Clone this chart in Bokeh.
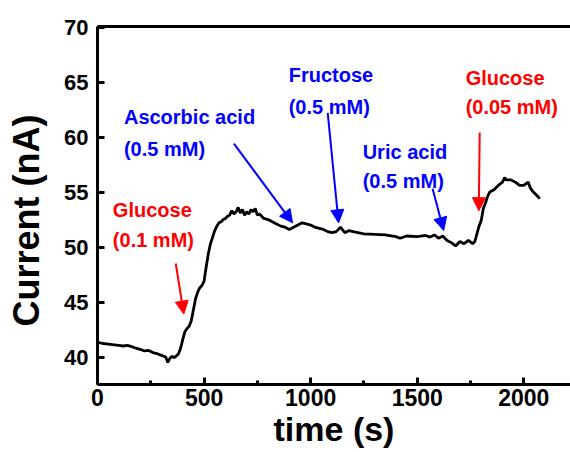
from bokeh.plotting import figure
from bokeh.models import Range1d, LinearAxis, Arrow, NormalHead, FixedTicker
from bokeh.core.properties import value
from bokeh.embed import file_html
from bokeh.resources import INLINE

# ---- data ----
time_s = [0, 20, 40, 60, 80, 100, 120, 140, 160, 180, 200, 220, 240, 260, 280, 300,
          320, 330, 340, 350, 360, 370, 380, 390, 400, 410, 420, 430, 440, 450, 460,
          470, 480, 490, 500, 510, 520, 530, 540, 550, 560, 570, 580, 590, 600, 610,
          620, 630, 640, 650, 660, 670, 680, 690, 700, 710, 720, 730, 740, 750, 760,
          780, 800, 820, 840, 860, 880, 900, 920, 940, 960, 980, 1000, 1020, 1040,
          1060, 1080, 1100, 1120, 1140, 1160, 1180, 1200, 1250, 1300, 1350, 1400,
          1420, 1450, 1500, 1540, 1560, 1580, 1600, 1620, 1640, 1660, 1680, 1700,
          1720, 1740, 1760, 1770, 1780, 1790, 1800, 1810, 1820, 1830, 1840, 1860,
          1880, 1900, 1910, 1920, 1940, 1960, 1980, 2000, 2020, 2030, 2040, 2060, 2075]
current_nA = [41.35, 41.25, 41.2, 41.15, 41.1, 41.05, 41.0, 41.05, 40.95, 40.8, 40.7,
              40.55, 40.6, 40.4, 40.3, 40.15, 40.0, 39.5, 39.9, 40.05, 39.95, 40.1,
              40.3, 40.8, 41.6, 42.3, 42.6, 42.8, 43.3, 44.3, 45.3, 45.9, 46.3, 46.5,
              46.9, 48.2, 49.4, 50.3, 50.9, 51.5, 51.9, 52.2, 52.3, 52.5, 52.6, 52.8,
              52.9, 53.3, 53.0, 53.2, 53.6, 53.1, 53.4, 52.9, 53.2, 53.0, 53.4, 53.2,
              53.5, 52.9, 53.0, 52.6, 52.5, 52.3, 52.1, 51.9, 51.8, 51.6, 51.8, 52.0,
              52.2, 52.1, 52.0, 51.8, 51.7, 51.6, 51.4, 51.3, 51.4, 51.8, 51.3, 51.5,
              51.4, 51.2, 51.15, 51.1, 50.95, 50.8, 51.0, 50.95, 51.05, 50.9, 51.1,
              50.8, 51.0, 50.6, 50.4, 50.1, 50.5, 50.3, 50.6, 50.3, 50.5, 51.2, 51.9,
              52.4, 53.5, 54.0, 54.6, 55.0, 55.2, 55.6, 55.9, 56.3, 56.1, 56.1, 55.9,
              55.6, 55.6, 55.9, 55.4, 55.1, 54.7, 54.4]

x_ticks = [0, 500, 1000, 1500, 2000]
y_ticks = [40, 45, 50, 55, 60, 65, 70]

# annotations: two text lines each, arrow start/end
ann_line1 = ["Glucose", "Ascorbic acid", "Fructose", "Uric acid", "Glucose"]
ann_line2 = ["(0.1 mM)", "(0.5 mM)", "(0.5 mM)", "(0.5 mM)", "(0.05 mM)"]
ann_x = [72, 124, 897, 1244, 1727]
ann_y1 = [53.35, 61.8, 65.6, 58.6, 65.4]
ann_y2 = [50.6, 58.95, 62.75, 56.0, 62.7]
ann_color = ["red", "blue", "blue", "blue", "red"]
arr_x0 = [367, 640, 1080, 1572, 1793]
arr_y0 = [48.5, 59.4, 62.2, 55.3, 60.4]
arr_x1 = [405, 915, 1131, 1624, 1789]
arr_y1 = [43.9, 52.2, 52.2, 51.5, 53.3]

FONT = "Liberation Sans"

p = figure(width=570, height=452, output_backend="svg", toolbar_location=None,
           x_range=Range1d(0, 2219), y_range=Range1d(37.5, 70.05),
           min_border_left=97, min_border_right=0, min_border_top=26,
           min_border_bottom=68)
p.outline_line_color = None
p.grid.grid_line_color = None
p.background_fill_color = "white"
p.border_fill_color = "white"

p.line(time_s, current_nA, line_color="black", line_width=2.8)

for ax in (p.xaxis[0], p.yaxis[0]):
    ax.axis_line_width = 3
    ax.axis_line_color = "black"
    ax.major_tick_line_width = 3
    ax.minor_tick_line_width = 3
    ax.major_tick_in = 7
    ax.major_tick_out = 0
    ax.major_label_text_font = FONT
    ax.major_label_text_font_style = "bold"
    ax.major_label_text_color = "black"
    ax.axis_label_text_font = FONT
    ax.axis_label_text_font_style = "bold"
    ax.axis_label_text_color = "black"

p.xaxis.ticker = FixedTicker(ticks=x_ticks, minor_ticks=[250, 750, 1250, 1750, 2250])
p.xaxis.minor_tick_in = 4
p.xaxis.minor_tick_out = 0
p.xaxis.major_label_text_font_size = "23px"
p.xaxis.major_label_standoff = 4
p.xaxis.axis_label = "time (s)"
p.xaxis.axis_label_text_font_size = "34px"
p.xaxis.axis_label_standoff = 1

p.yaxis.ticker = FixedTicker(ticks=y_ticks, minor_ticks=[])
p.yaxis.minor_tick_line_color = None
p.yaxis.major_label_text_font_size = "22px"
p.yaxis.major_label_standoff = 9
p.yaxis.axis_label = "Current (nA)\u00a0\u00a0\u00a0"
p.yaxis.axis_label_text_font_size = "36px"
p.yaxis.axis_label_standoff = 14

top = LinearAxis(axis_line_width=3, axis_line_color="black",
                 major_tick_line_color=None, minor_tick_line_color=None,
                 major_label_text_color=None, major_label_text_font_size="1px")
p.add_layout(top, "above")

p.text(x=ann_x, y=ann_y1, text=ann_line1, text_color=ann_color,
       text_font=value(FONT), text_font_style="bold", text_font_size="20px",
       text_align="left", text_baseline="alphabetic")
p.text(x=ann_x, y=ann_y2, text=ann_line2, text_color=ann_color,
       text_font=value(FONT), text_font_style="bold", text_font_size="20px",
       text_align="left", text_baseline="alphabetic")

for x0, y0, x1, y1, c in zip(arr_x0, arr_y0, arr_x1, arr_y1, ann_color):
    p.add_layout(Arrow(end=NormalHead(size=13, fill_color=c, line_color=c, line_width=1),
                       x_start=x0, y_start=y0, x_end=x1, y_end=y1,
                       line_color=c, line_width=2))

open("out.html", "w").write(file_html(p, INLINE))
